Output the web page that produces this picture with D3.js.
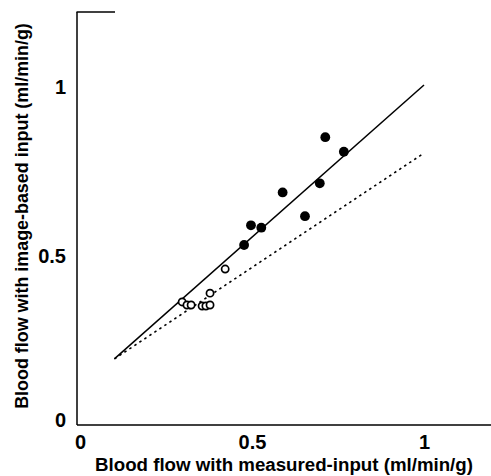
<!DOCTYPE html>
<html>
<head>
<meta charset="utf-8">
<script src="https://cdn.jsdelivr.net/npm/d3@7"></script>
<style>
  html, body { margin: 0; padding: 0; background: #fff; }
  svg { display: block; }
  text { font-family: "Liberation Sans", Arial, Helvetica, sans-serif; font-weight: bold; fill: #000; }
</style>
</head>
<body>
<svg id="chart" width="491" height="476"></svg>
<script>
// Measured-input vs image-based-input blood flow (ml/min/g)
const filledX = [0.713, 0.767, 0.589, 0.697, 0.497, 0.527, 0.654, 0.477];
const filledY = [0.849, 0.806, 0.686, 0.713, 0.589, 0.582, 0.616, 0.531];
const openX = [0.297, 0.311, 0.323, 0.355, 0.366, 0.378, 0.378, 0.422];
const openY = [0.363, 0.354, 0.354, 0.351, 0.351, 0.354, 0.389, 0.460];
// Regression line (solid) and reference line (dotted), as end points
const solidLineX = [0.1, 1.0];
const solidLineY = [0.195, 1.003];
const dashedLineX = [0.1, 1.0];
const dashedLineY = [0.195, 0.802];
const tickValues = [0, 0.5, 1];
const tickLabels = ["0", "0.5", "1"];
const xTitle = "Blood flow with measured-input (ml/min/g)";
const yTitle = "Blood flow with image-based input (ml/min/g)";

const svg = d3.select("#chart");
const x = d3.scaleLinear().domain([0, 1.2]).range([80, 80 + 344 * 1.2]);
const y = d3.scaleLinear().domain([0, 1.2]).range([425, 425 - 339 * 1.2]);

// Axis lines
svg.append("line").attr("x1", 77).attr("x2", 491).attr("y1", 425).attr("y2", 425)
  .attr("stroke", "#000").attr("stroke-width", 1.5);
svg.append("line").attr("x1", 77).attr("x2", 77).attr("y1", 12).attr("y2", 425)
  .attr("stroke", "#000").attr("stroke-width", 1.5);
svg.append("line").attr("x1", 76.5).attr("x2", 115).attr("y1", 12).attr("y2", 12)
  .attr("stroke", "#000").attr("stroke-width", 1.3);

// Tick labels
const fmt = d => tickLabels[tickValues.indexOf(d)];
const xAxis = d3.axisBottom(x).tickValues(tickValues).tickFormat(fmt).tickSize(0).tickPadding(0);
const gx = svg.append("g").attr("transform", "translate(0,432)").call(xAxis);
gx.select(".domain").remove();
gx.selectAll("text").attr("dy", null).attr("y", 17).style("font-size", "20px")
  .style("font-family", '"Liberation Sans", Arial, sans-serif').style("font-weight", "bold");

const yAxis = d3.axisLeft(y).tickValues(tickValues).tickFormat(fmt).tickSize(0).tickPadding(0);
const gy = svg.append("g").attr("transform", "translate(66,0)").call(yAxis);
gy.select(".domain").remove();
gy.selectAll("text").attr("dy", "0.36em").style("font-size", "20px")
  .style("font-family", '"Liberation Sans", Arial, sans-serif').style("font-weight", "bold")
  .attr("y", d => d === 0 ? -6 : 0);

// Axis titles
svg.append("text").attr("x", 284).attr("y", 471).attr("text-anchor", "middle")
  .style("font-size", "18.7px").text(xTitle);
svg.append("text").attr("transform", "translate(28,216) rotate(-90)").attr("text-anchor", "middle")
  .style("font-size", "17.9px").text(yTitle);

// Lines
const line = d3.line().x(d => x(d[0])).y(d => y(d[1]));
svg.append("path").datum(solidLineX.map((v, i) => [v, solidLineY[i]]))
  .attr("d", line).attr("fill", "none").attr("stroke", "#000").attr("stroke-width", 1.5);
svg.append("path").datum(dashedLineX.map((v, i) => [v, dashedLineY[i]]))
  .attr("d", line).attr("fill", "none").attr("stroke", "#000").attr("stroke-width", 1.6)
  .attr("stroke-dasharray", "2.5,3.5");

// Points
svg.append("g").selectAll("circle").data(filledX.map((v, i) => [v, filledY[i]])).join("circle")
  .attr("cx", d => x(d[0])).attr("cy", d => y(d[1])).attr("r", 4.9).attr("fill", "#000");
svg.append("g").selectAll("circle").data(openX.map((v, i) => [v, openY[i]])).join("circle")
  .attr("cx", d => x(d[0])).attr("cy", d => y(d[1])).attr("r", 3.6)
  .attr("fill", "#fff").attr("stroke", "#000").attr("stroke-width", 1.7);
</script>
</body>
</html>
